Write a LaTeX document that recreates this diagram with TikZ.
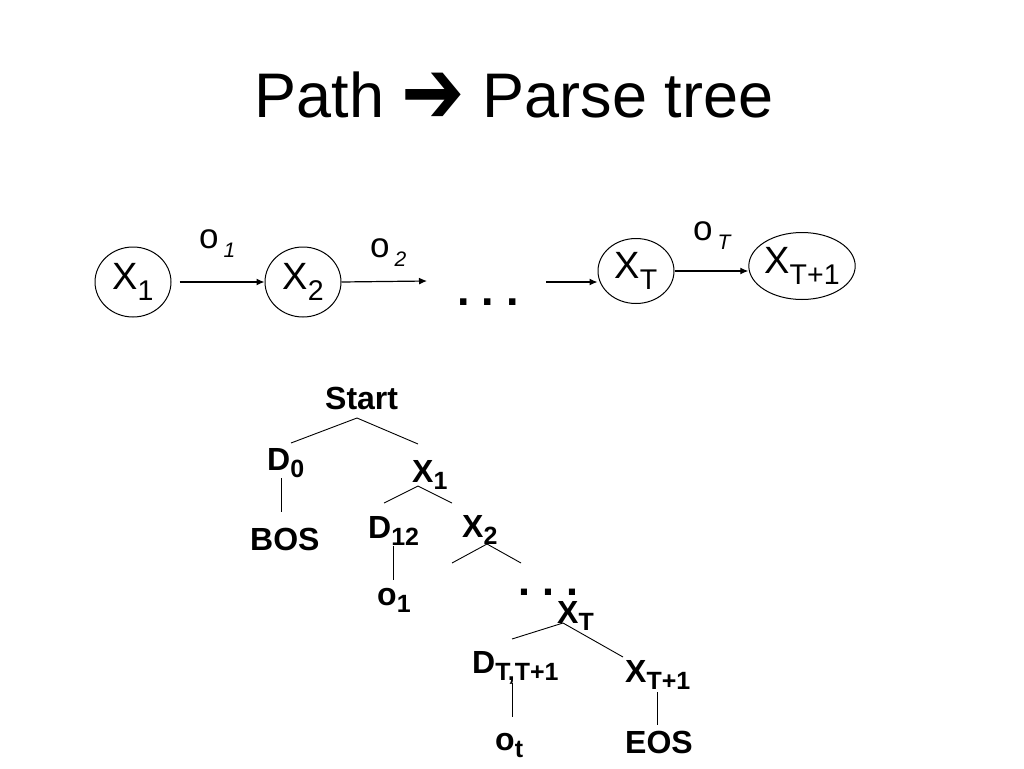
\documentclass[tikz,border=0pt]{standalone}
\usepackage{fontspec}
\setmainfont{Liberation Sans}
\newfontfamily\djv{DejaVu Sans}
\usetikzlibrary{shapes.geometric,arrows.meta}
\newcommand\Ssub[1]{\raisebox{-0.28em}{\scalebox{0.75}{#1}}}
\newcommand\Tsub[1]{\raisebox{-0.22em}{\scalebox{0.78}{#1}}}
\newcommand\Osub[1]{\hspace{5pt}\raisebox{-0.26em}{\scalebox{0.6}{\itshape #1}}}
\begin{document}
\begin{tikzpicture}[x=1pt,y=-1pt,
  state/.style={draw,ellipse,line width=1pt,inner sep=0pt,font=\fontsize{38}{42}\selectfont},
  lab/.style={inner sep=0pt,anchor=base west,font=\fontsize{35}{40}\selectfont},
  tlab/.style={inner sep=0pt,anchor=base west,font=\fontsize{32}{36}\selectfont\bfseries},
  arr/.style={line width=1.2pt,-{Latex[length=8pt,width=7pt]}},
  br/.style={line width=0.9pt}]
\useasboundingbox (0,0) rectangle (1024,768);
% title
\node[inner sep=0pt,anchor=base,font=\fontsize{63}{70}\selectfont] (title) at (514,117) {Path \raisebox{-6pt}{\scalebox{1.2}[1.45]{\djv ➔}} Parse tree};
% top chain
\node[state,minimum width=76pt,minimum height=70pt] (X1) at (133,282) {X\Ssub{1}};
\node[state,minimum width=76pt,minimum height=70pt] (X2) at (303,282) {X\Ssub{2}};
\node[state,minimum width=76pt,minimum height=65pt] (XT) at (636,271) {X\Ssub{T}};
\node[state,minimum width=86pt,minimum height=67pt] (XT1) at (802,266) {X\Ssub{T+1}};
\coordinate (e2) at (427,281);
\coordinate (sT) at (546,282);
\draw[arr,shorten <=8pt] (X1) -- (X2);
\draw[arr] (X2.east) -- (e2);
\draw[arr] (sT) -- (sT -| XT.west);
\draw[arr] (XT.east) -- (XT.east -| XT1.west);
\node[lab] (o1) at (199,248) {o\Osub{1}};
\node[lab] (o2) at (370,257) {o\Osub{2}};
\node[lab] (oT) at (693,240) {o\Osub{T}};
\node[inner sep=0pt,anchor=base west,font=\fontsize{45}{50}\selectfont\bfseries] (dots1) at (457,305) {.\kern12pt.\kern12pt.};
% tree
\node[tlab] (Start) at (325,409) {Start};
\node[tlab] (D0) at (267,470) {D\Tsub{0}};
\node[tlab] (BOS) at (250,550) {BOS};
\node[tlab] (TX1) at (412,482) {X\Tsub{1}};
\node[tlab] (D12) at (368,538) {D\Tsub{12}};
\node[tlab] (TX2) at (462,537) {X\Tsub{2}};
\node[tlab] (to1) at (377,605) {o\Tsub{1}};
\node[inner sep=0pt,anchor=base west,font=\fontsize{43}{48}\selectfont\bfseries] (dots2) at (518,595) {.\kern12pt.\kern12pt.};
\node[tlab] (TXT) at (557,623) {X\Tsub{T}};
\node[tlab] (DTT) at (472,673) {D\Tsub{T,T+1}};
\node[tlab] (TXT1) at (625,682) {X\Tsub{T+1}};
\node[tlab] (ot) at (495,750) {o\Tsub{t}};
\node[tlab] (EOS) at (625,753) {EOS};
% branch coordinates
\coordinate (aS) at (357,418);
\coordinate (aSl) at (291,443);
\coordinate (aSr) at (418,444);
\coordinate (aD0t) at (281,478);
\coordinate (aD0b) at (281,512);
\coordinate (aX1) at (418,486);
\coordinate (aX1l) at (384,503);
\coordinate (aX1r) at (452,503);
\coordinate (aD12t) at (393,546);
\coordinate (aD12b) at (393,580);
\coordinate (aX2) at (487,544);
\coordinate (aX2l) at (452,563);
\coordinate (aX2r) at (521,563);
\coordinate (aXT) at (563,623);
\coordinate (aXTl) at (512,639);
\coordinate (aXTr) at (623,657);
\coordinate (aDTt) at (512,683);
\coordinate (aDTb) at (512,717);
\coordinate (aXT1t) at (657,692);
\coordinate (aXT1b) at (657,725);
\draw[br] (aSl) -- (aS) -- (aSr);
\draw[br] (aD0t) -- (aD0b);
\draw[br] (aX1l) -- (aX1) -- (aX1r);
\draw[br] (aD12t) -- (aD12b);
\draw[br] (aX2l) -- (aX2) -- (aX2r);
\draw[br] (aXTl) -- (aXT) -- (aXTr);
\draw[br] (aDTt) -- (aDTb);
\draw[br] (aXT1t) -- (aXT1b);
\end{tikzpicture}
\end{document}
